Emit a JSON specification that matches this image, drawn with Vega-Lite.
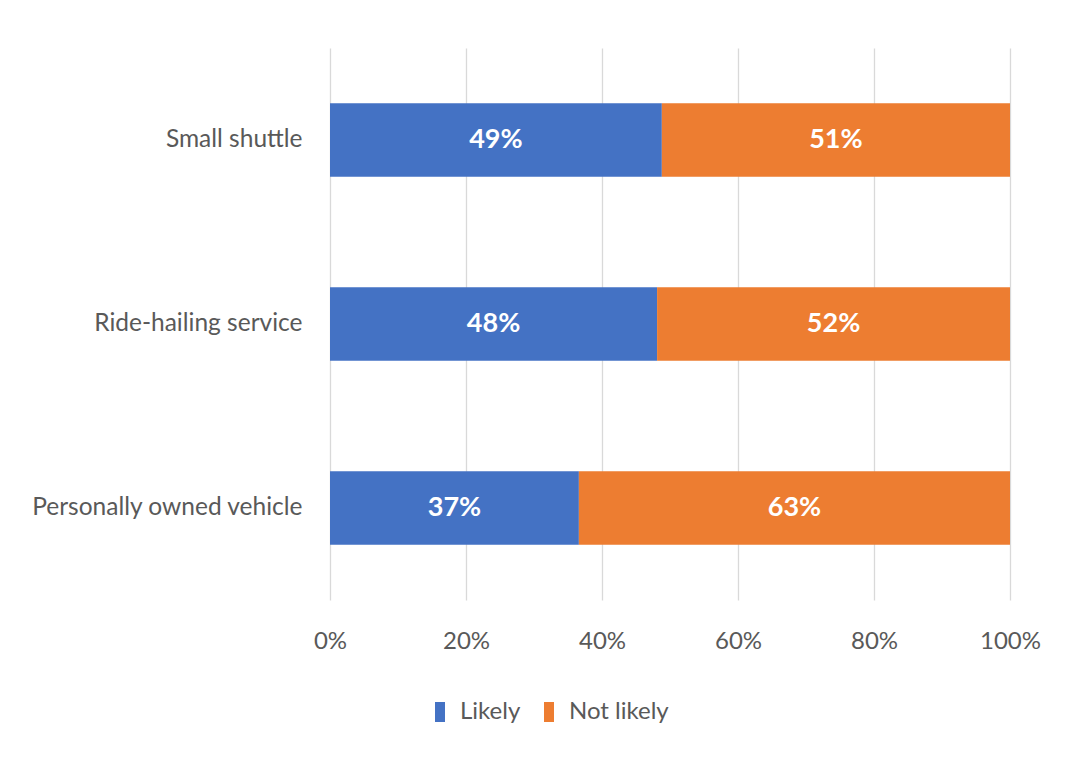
{
  "$schema": "https://vega.github.io/schema/vega-lite/v6.json",
  "autosize": {"type": "none"},
  "width": 680,
  "height": 552,
  "padding": {"left": 330, "top": 48, "right": 63, "bottom": 160},
  "background": "white",
  "config": {
    "view": {"stroke": null},
    "font": "Lato"
  },
  "data": {
    "values": [
      {"vehicle": "Small shuttle", "response": "Likely", "pct": 0.488, "ord": 1},
      {"vehicle": "Small shuttle", "response": "Not likely", "pct": 0.512, "ord": 2},
      {"vehicle": "Ride-hailing service", "response": "Likely", "pct": 0.481, "ord": 1},
      {"vehicle": "Ride-hailing service", "response": "Not likely", "pct": 0.519, "ord": 2},
      {"vehicle": "Personally owned vehicle", "response": "Likely", "pct": 0.366, "ord": 1},
      {"vehicle": "Personally owned vehicle", "response": "Not likely", "pct": 0.634, "ord": 2}
    ]
  },
  "transform": [
    {"stack": "pct", "groupby": ["vehicle"], "sort": [{"field": "ord"}], "as": ["x0", "x1"]},
    {"calculate": "(datum.x0 + datum.x1) / 2", "as": "mid"}
  ],
  "encoding": {
    "y": {
      "field": "vehicle",
      "type": "nominal",
      "sort": ["Small shuttle", "Ride-hailing service", "Personally owned vehicle"],
      "scale": {"paddingInner": 0.6, "paddingOuter": 0.3},
      "axis": {
        "title": null,
        "domain": false,
        "ticks": false,
        "labelPadding": 28,
        "labelFontSize": 24.5,
        "labelColor": "#595959",
        "labelFont": "Lato",
        "labelLimit": 400
      }
    }
  },
  "layer": [
    {
      "mark": {"type": "bar"},
      "encoding": {
        "x": {
          "field": "x0",
          "type": "quantitative",
          "scale": {"domain": [0, 1], "nice": false},
          "axis": {
            "title": null,
            "format": ".0%",
            "values": [0, 0.2, 0.4, 0.6, 0.8, 1],
            "domain": false,
            "ticks": false,
            "grid": true,
            "gridColor": "#d9d9d9",
            "gridWidth": 1.3,
            "labelFlush": false,
            "labelPadding": 29,
            "labelFontSize": 24,
            "labelColor": "#595959",
            "labelFont": "Lato"
          }
        },
        "x2": {"field": "x1"},
        "color": {
          "field": "response",
          "type": "nominal",
          "scale": {"domain": ["Likely", "Not likely"], "range": ["#4472C4", "#ED7D31"]},
          "legend": {
            "title": null,
            "orient": "none",
            "direction": "horizontal",
            "legendX": 98,
            "legendY": 652,
            "symbolType": "M-0.5,-1H0.5V1H-0.5Z",
            "symbolSize": 400,
            "symbolStrokeWidth": 0,
            "labelFontSize": 24,
            "labelColor": "#595959",
            "labelFont": "Lato",
            "columnPadding": 16,
            "labelOffset": 8
          }
        }
      }
    },
    {
      "mark": {"type": "text", "color": "white", "fontWeight": "bold", "fontSize": 27, "font": "Lato"},
      "encoding": {
        "x": {"field": "mid", "type": "quantitative"},
        "text": {"field": "pct", "type": "quantitative", "format": ".0%"}
      }
    }
  ]
}
